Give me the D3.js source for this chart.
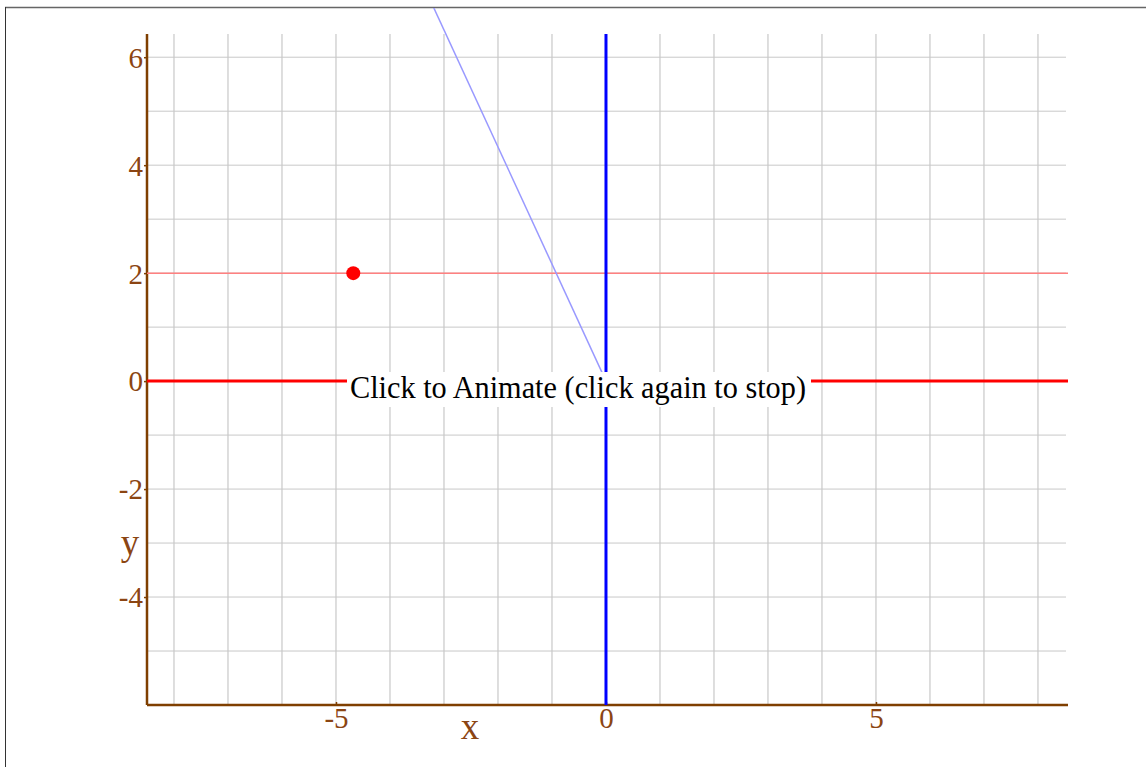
<!DOCTYPE html>
<html><head><meta charset="utf-8">
<script src="https://cdn.jsdelivr.net/npm/d3@7"></script>
<style>
html,body{margin:0;padding:0;background:#fff;overflow:hidden;}
svg{display:block;}
</style></head>
<body>
<svg id="chart" width="1146" height="767"></svg>
<script>
// ---- data ----
const xGridValues = [-8,-7,-6,-5,-4,-3,-2,-1,0,1,2,3,4,5,6,7,8];
const yGridValues = [-5,-4,-3,-2,-1,0,1,2,3,4,5,6];
const xTickLabels = [-5,0,5];
const yTickLabels = [-4,-2,0,2,4,6];
const xDomain = [-8.5, 8.556];
const yDomain = [-6, 6.43];
const rayAngleDeg = [114.76];     // light blue ray from origin
const rayLength = [12];
const hLineY = [2];               // light red horizontal line
const pointXY = [[-4.68, 2]];     // red dot
const buttonText = ["Click to Animate (click again to stop)"];

(function(){
// ---- layout ----
const svg = d3.select("#chart");
const pL = 147, pR = 1068, pT = 34, pB = 705;
const x = d3.scaleLinear().domain(xDomain).range([pL, pR]);
const y = d3.scaleLinear().domain(yDomain).range([pB, pT]);
const brown = "#8B4513", axisBrown = "#7f3f00";
const font = "'Liberation Serif','Times New Roman',serif";

svg.append("defs").append("clipPath").attr("id","frame")
  .append("rect").attr("x",5).attr("y",8).attr("width",1141).attr("height",759);

// frame border
svg.append("line").attr("x1",5).attr("x2",1146).attr("y1",7.5).attr("y2",7.5)
  .attr("stroke","#666").attr("stroke-width",1.5);
svg.append("line").attr("x1",5.5).attr("x2",5.5).attr("y1",7).attr("y2",767)
  .attr("stroke","#333").attr("stroke-width",1);

const g = svg.append("g").attr("clip-path","url(#frame)");

// grid
g.append("g").selectAll("line").data(xGridValues).join("line")
  .attr("x1",d=>x(d)).attr("x2",d=>x(d)).attr("y1",pT).attr("y2",pB)
  .attr("stroke","#bdbdbd").attr("stroke-width",1);
g.append("g").selectAll("line").data(yGridValues).join("line")
  .attr("x1",pL).attr("x2",pR-2).attr("y1",d=>y(d)).attr("y2",d=>y(d))
  .attr("stroke","#c8c8c8").attr("stroke-width",1);

// axes
const fmt = d => String(d);
const xAxis = d3.axisBottom(x).tickValues(xTickLabels).tickSize(3).tickFormat(fmt);
const yAxis = d3.axisLeft(y).tickValues(yTickLabels).tickSize(3).tickFormat(fmt);
const gx = g.append("g").attr("transform",`translate(0,${pB})`).call(xAxis);
const gy = g.append("g").attr("transform",`translate(${pL},0)`).call(yAxis);
[gx,gy].forEach(a=>{
  a.select(".domain").remove();
  a.selectAll(".tick line").attr("stroke",axisBrown).attr("stroke-width",1.5);
  a.selectAll(".tick text").attr("fill",brown).attr("font-family",font).attr("font-size",29);
});
gx.selectAll(".tick line").attr("y1",-3).attr("y2",0);
gx.selectAll(".tick text").attr("y",2).attr("dy","0.71em");
gy.selectAll(".tick text").attr("x",-4).attr("dy","0.34em");

g.append("line").attr("x1",pL).attr("x2",pR).attr("y1",pB).attr("y2",pB)
  .attr("stroke",axisBrown).attr("stroke-width",2.5);
g.append("line").attr("x1",pL).attr("x2",pL).attr("y1",pT).attr("y2",pB)
  .attr("stroke",axisBrown).attr("stroke-width",2.5);

// axis titles
g.append("text").attr("x",470).attr("y",739).attr("text-anchor","middle")
  .attr("fill",brown).attr("font-family",font).attr("font-size",37).text("x");
g.append("text").attr("x",130).attr("y",555).attr("text-anchor","middle")
  .attr("fill",brown).attr("font-family",font).attr("font-size",37).text("y");

// horizontal light red line at y=2
g.selectAll(".hl").data(hLineY).join("line").attr("class","hl")
  .attr("x1",pL).attr("x2",pR).attr("y1",d=>y(d)).attr("y2",d=>y(d))
  .attr("stroke","#ff8080").attr("stroke-width",1.5);

// x-axis y=0 red line
g.append("line").attr("x1",x(xDomain[0])).attr("x2",x(xDomain[1])).attr("y1",y(0)).attr("y2",y(0))
  .attr("stroke","#ff0000").attr("stroke-width",3);
// y-axis x=0 blue line
g.append("line").attr("x1",x(0)).attr("x2",x(0)).attr("y1",y(yDomain[1])).attr("y2",y(yDomain[0]))
  .attr("stroke","#0000ff").attr("stroke-width",3);

// ray
g.selectAll(".ray").data(rayAngleDeg).join("line").attr("class","ray")
  .attr("x1",x(0)).attr("y1",y(0))
  .attr("x2",(d,i)=>x(rayLength[i]*Math.cos(d*Math.PI/180)))
  .attr("y2",(d,i)=>y(rayLength[i]*Math.sin(d*Math.PI/180)))
  .attr("stroke","#9999ff").attr("stroke-width",1.5);

// point
g.selectAll(".pt").data(pointXY).join("circle").attr("class","pt")
  .attr("cx",d=>x(d[0])).attr("cy",d=>y(d[1])).attr("r",7).attr("fill","#ff0000");

// button label
const bg = svg.append("g");
bg.append("rect").attr("x",347).attr("y",372).attr("width",464).attr("height",35).attr("fill","#fff");
bg.selectAll("text").data(buttonText).join("text")
  .attr("x",350).attr("y",398)
  .attr("textLength",456).attr("lengthAdjust","spacingAndGlyphs")
  .attr("font-family",font).attr("font-size",32).attr("fill","#000").text(d=>d);
})();
</script>
</body></html>
